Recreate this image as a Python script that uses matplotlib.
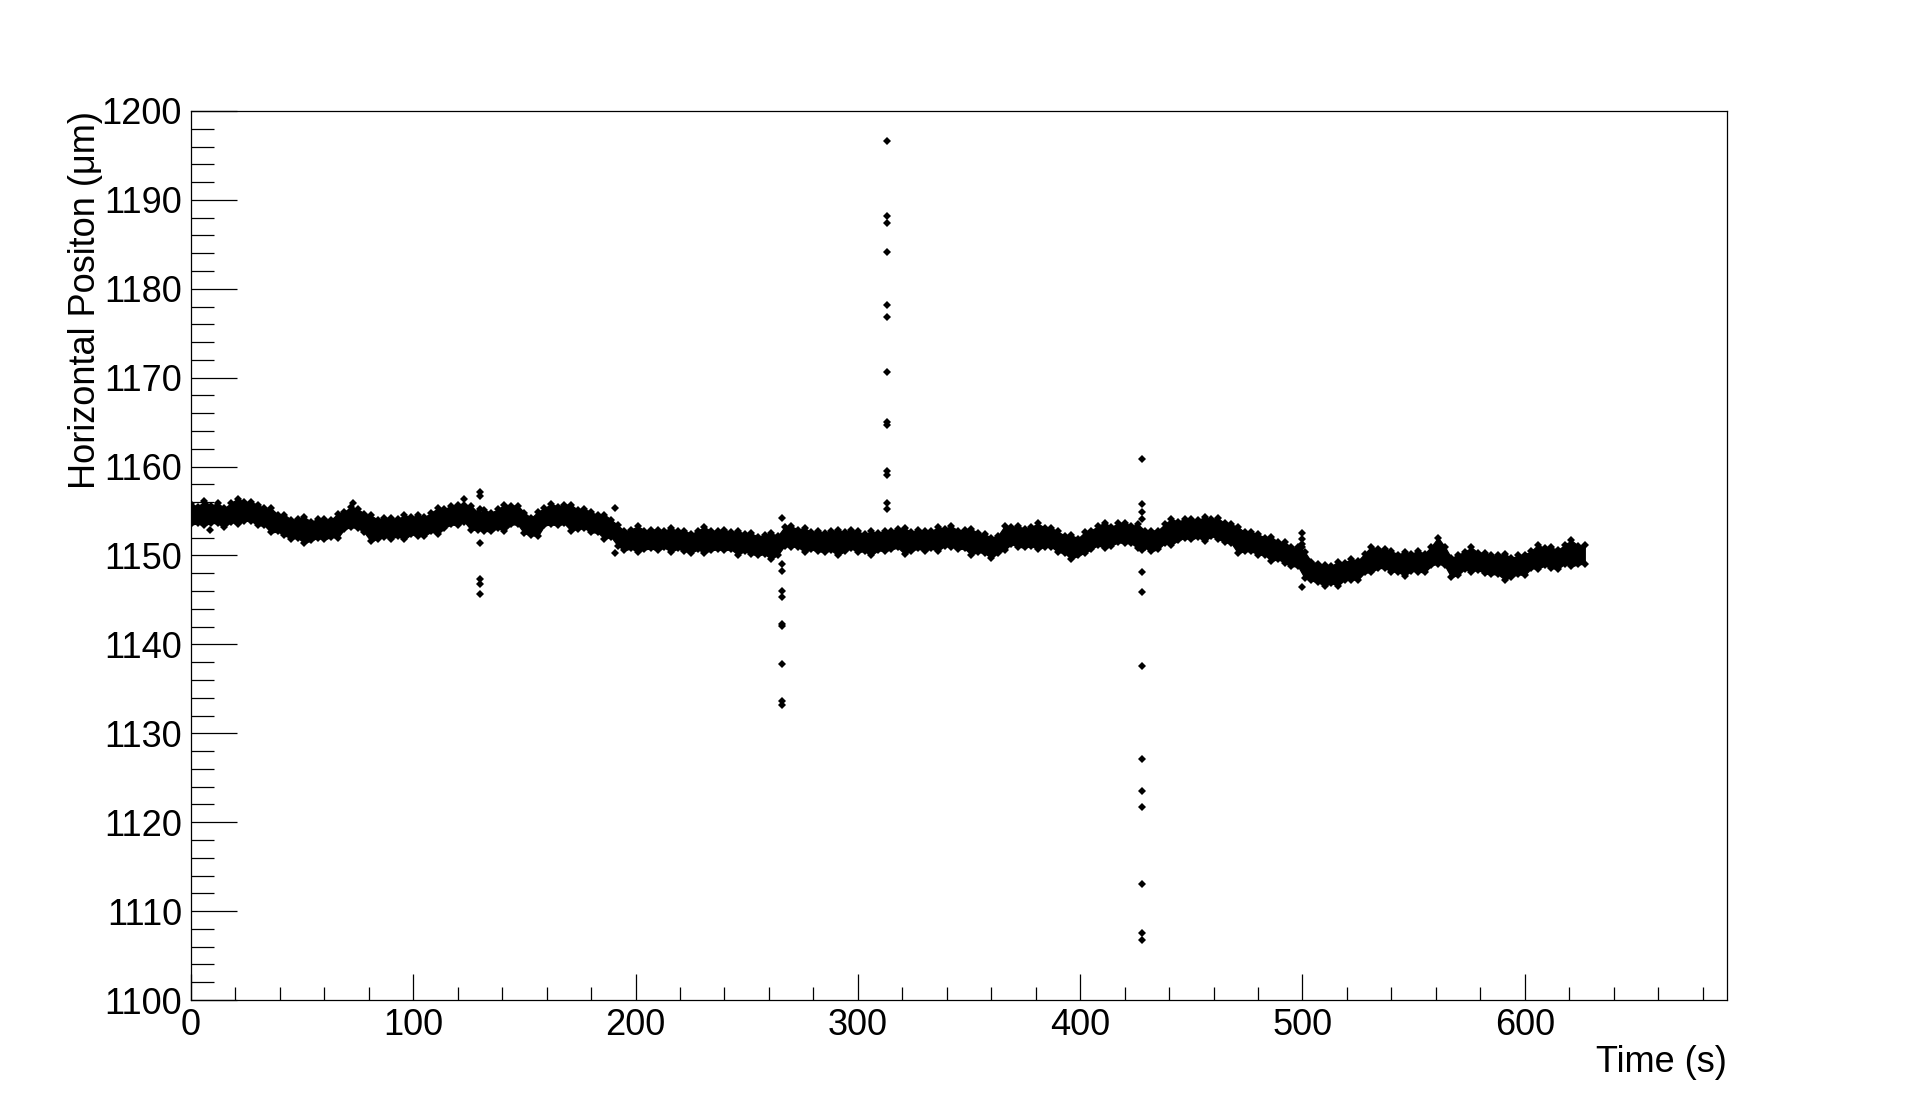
import matplotlib
matplotlib.use("Agg")
import matplotlib.pyplot as plt
from matplotlib.ticker import MultipleLocator
import numpy as np

plt.rcParams['font.family'] = ['Liberation Sans', 'DejaVu Sans']

# band of the position readout, read every 3 s (upper / lower edge of the dense cloud)
time_s = np.arange(0, 630, 3)
pos_upper = [
    1155.8, 1155.5, 1156.1, 1155.6, 1155.9, 1155.3, 1155.9, 1156.4, 1156.0, 1156.0,
    1155.7, 1155.3, 1155.3, 1154.6, 1154.6, 1154.0, 1154.1, 1154.3, 1153.8, 1154.1,
    1154.1, 1154.0, 1154.7, 1154.9, 1155.5, 1155.2, 1154.7, 1154.5, 1154.0, 1154.2,
    1154.2, 1154.1, 1154.5, 1154.3, 1154.5, 1154.3, 1154.8, 1155.3, 1155.2, 1155.6,
    1155.7, 1155.7, 1155.6, 1154.8, 1155.1, 1154.8, 1155.2, 1155.7, 1155.6, 1155.6,
    1154.8, 1154.2, 1154.9, 1155.3, 1155.8, 1155.5, 1155.7, 1155.7, 1155.1, 1155.2,
    1154.9, 1154.5, 1154.6, 1154.0, 1153.4, 1152.7, 1152.9, 1153.3, 1152.8, 1152.9,
    1152.9, 1152.8, 1153.1, 1152.7, 1152.8, 1152.4, 1152.8, 1153.2, 1152.7, 1152.8,
    1152.9, 1152.6, 1152.8, 1152.4, 1152.5, 1152.1, 1152.3, 1152.5, 1152.2, 1153.2,
    1153.3, 1152.9, 1153.1, 1152.6, 1152.8, 1152.5, 1152.7, 1152.9, 1152.6, 1152.9,
    1152.7, 1152.4, 1152.7, 1152.5, 1152.8, 1152.8, 1153.0, 1153.1, 1152.6, 1152.9,
    1152.8, 1152.7, 1153.2, 1153.0, 1153.3, 1152.8, 1152.9, 1153.0, 1152.5, 1152.4,
    1152.0, 1152.2, 1153.3, 1153.2, 1153.3, 1153.0, 1153.2, 1153.6, 1153.1, 1153.1,
    1152.7, 1152.2, 1152.3, 1151.9, 1152.6, 1152.8, 1153.3, 1153.7, 1153.2, 1153.6,
    1153.7, 1153.3, 1153.5, 1152.8, 1152.8, 1152.8, 1153.5, 1154.1, 1153.8, 1154.1,
    1154.1, 1154.0, 1154.3, 1154.1, 1154.2, 1153.6, 1153.5, 1153.2, 1152.6, 1152.6,
    1152.4, 1152.0, 1152.1, 1151.5, 1151.5, 1150.9, 1150.9, 1150.4, 1149.3, 1149.1,
    1148.9, 1148.8, 1149.3, 1149.2, 1149.6, 1149.4, 1150.2, 1151.0, 1150.7, 1150.7,
    1150.5, 1150.1, 1150.4, 1150.2, 1150.5, 1150.2, 1151.0, 1152.0, 1151.0, 1149.7,
    1150.1, 1150.4, 1150.9, 1150.3, 1150.3, 1150.0, 1150.0, 1150.2, 1149.7, 1150.0,
    1150.1, 1150.5, 1151.2, 1150.8, 1150.9, 1150.6, 1151.2, 1151.7, 1151.1, 1151.2,
]
pos_lower = [
    1153.5, 1153.6, 1153.4, 1153.7, 1153.6, 1153.2, 1153.8, 1153.5, 1153.9, 1153.9,
    1153.4, 1153.4, 1152.6, 1152.7, 1152.3, 1151.9, 1152.0, 1151.4, 1151.7, 1152.0,
    1151.8, 1152.1, 1152.0, 1153.0, 1153.2, 1153.1, 1152.6, 1151.6, 1151.9, 1152.1,
    1151.9, 1152.2, 1151.8, 1152.4, 1152.2, 1152.2, 1152.7, 1152.4, 1153.1, 1153.5,
    1153.4, 1153.8, 1152.9, 1152.9, 1152.8, 1152.7, 1153.1, 1152.8, 1153.5, 1153.5,
    1152.5, 1152.3, 1152.2, 1153.4, 1153.5, 1153.4, 1153.6, 1152.8, 1153.0, 1153.1,
    1152.6, 1152.6, 1151.9, 1152.1, 1151.1, 1150.6, 1150.8, 1150.4, 1150.7, 1150.8,
    1150.6, 1150.9, 1150.4, 1150.8, 1150.5, 1150.3, 1150.7, 1150.3, 1150.6, 1150.7,
    1150.6, 1150.7, 1150.1, 1150.5, 1150.2, 1150.0, 1150.2, 1149.6, 1150.1, 1151.1,
    1151.0, 1151.0, 1150.4, 1150.7, 1150.5, 1150.4, 1150.6, 1150.0, 1150.5, 1150.8,
    1150.4, 1150.5, 1150.0, 1150.6, 1150.5, 1150.7, 1150.9, 1150.2, 1150.5, 1150.8,
    1150.5, 1150.8, 1150.5, 1151.1, 1151.0, 1150.7, 1150.8, 1150.1, 1150.4, 1150.3,
    1149.7, 1150.3, 1150.6, 1151.3, 1151.0, 1150.9, 1151.1, 1150.7, 1151.0, 1151.0,
    1150.4, 1150.3, 1149.6, 1150.0, 1150.3, 1150.7, 1151.2, 1150.8, 1151.1, 1151.5,
    1151.4, 1151.4, 1150.8, 1150.9, 1150.5, 1150.7, 1151.4, 1151.2, 1151.7, 1152.0,
    1151.8, 1152.1, 1151.6, 1152.2, 1151.9, 1151.5, 1151.4, 1150.3, 1150.5, 1150.5,
    1150.1, 1150.1, 1149.4, 1149.6, 1149.2, 1148.8, 1148.8, 1147.5, 1147.2, 1147.0,
    1146.6, 1146.9, 1146.6, 1147.3, 1147.3, 1147.3, 1148.1, 1148.1, 1148.6, 1148.6,
    1148.2, 1148.2, 1147.7, 1148.3, 1148.2, 1148.1, 1148.9, 1149.1, 1148.9, 1147.6,
    1147.8, 1148.5, 1148.2, 1148.4, 1148.0, 1147.9, 1147.9, 1147.3, 1147.6, 1147.9,
    1147.8, 1148.6, 1148.5, 1148.9, 1148.6, 1148.5, 1149.1, 1148.8, 1149.0, 1149.1,
]

# isolated readings (jumps) away from the band
jump_t = [130, 130, 130, 130, 130, 130, 130,
          266, 266, 266, 266, 266, 266, 266, 266, 266, 266,
          313.2, 313.2, 313.2, 313.2, 313.2, 313.2, 313.2, 313.2, 313.2, 313.2, 313.2, 313.2, 313.2,
          428, 428, 428, 428, 428, 428, 428, 428, 428, 428, 428, 428, 428, 428,
          500, 500, 500, 500, 500,
          8.5, 73, 190.8, 190.8, 123]
jump_pos = [1157.1, 1156.7, 1155.2, 1151.4, 1147.4, 1146.8, 1145.7,
            1154.2, 1149.1, 1148.3, 1146.0, 1145.3, 1142.3, 1142.1, 1137.8, 1133.6, 1133.2,
            1196.6, 1188.2, 1187.4, 1184.1, 1178.2, 1176.8, 1170.6, 1165.0, 1164.7, 1159.5, 1159.0, 1155.9, 1155.2,
            1160.9, 1155.8, 1154.9, 1154.1, 1150.6, 1148.1, 1145.9, 1137.6, 1127.1, 1123.5, 1121.7, 1113.0, 1107.5, 1106.8,
            1152.5, 1151.8, 1151.3, 1150.9, 1146.5,
            1152.9, 1155.9, 1155.3, 1150.3, 1156.3]

fig = plt.figure(figsize=(19.18, 11.12), dpi=100)
ax = fig.add_axes([0.0996, 0.1007, 0.8008, 0.7995])

ax.fill_between(time_s, pos_lower, pos_upper, color='black', linewidth=1.0)
ax.plot(time_s, pos_upper, 'kD', ms=4.0, mew=0)
ax.plot(time_s, pos_lower, 'kD', ms=4.0, mew=0)
ax.plot(jump_t, jump_pos, 'kD', ms=3.8, mew=0)

ax.set_xlim(0, 691)
ax.set_ylim(1100, 1200)

ax.xaxis.set_major_locator(MultipleLocator(100))
ax.xaxis.set_minor_locator(MultipleLocator(20))
ax.yaxis.set_major_locator(MultipleLocator(10))
ax.yaxis.set_minor_locator(MultipleLocator(2))
ax.set_xticks(range(0, 700, 100))
ax.set_xticklabels(['0', '100', '200', '300', '400', '500', '600'])

ax.tick_params(axis='x', which='major', direction='in', length=18.7, width=0.9,
               labelsize=26, pad=6, top=False)
ax.tick_params(axis='x', which='minor', direction='in', length=9.4, width=0.9, top=False)
ax.tick_params(axis='y', which='major', direction='in', length=33, width=0.9,
               labelsize=26, pad=6.5, right=False)
ax.tick_params(axis='y', which='minor', direction='in', length=16.6, width=0.9, right=False)

for s in ax.spines.values():
    s.set_linewidth(0.9)

ax.set_xlabel('Time (s)', fontsize=26, ha='right')
ax.xaxis.set_label_coords(1.0, -0.051)
ax.set_ylabel('Horizontal Positon (\u03bcm)', fontsize=26, ha='right')
ax.yaxis.set_label_coords(-0.057, 1.0)

fig.savefig('out.png', dpi=100)
